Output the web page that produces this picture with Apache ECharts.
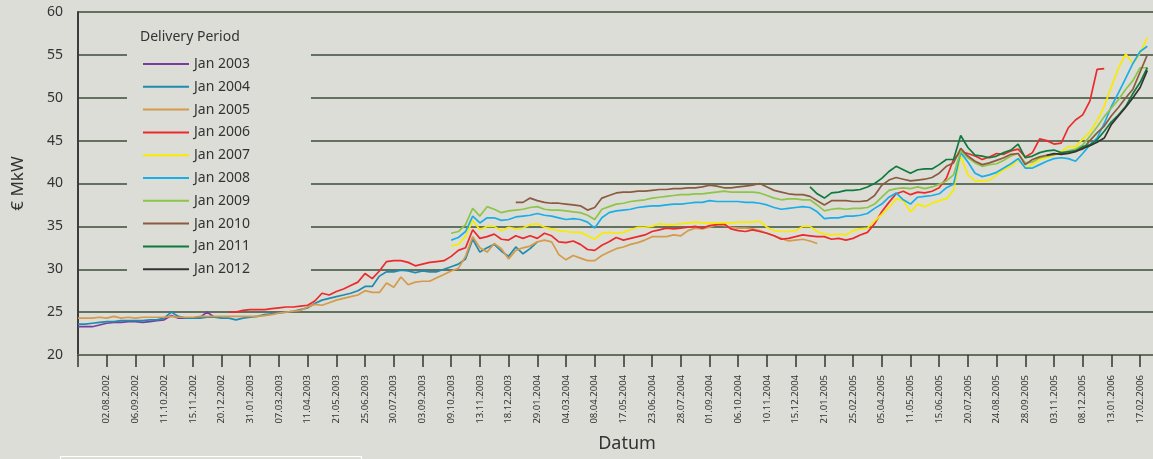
<!DOCTYPE html>
<html>
<head>
<meta charset="utf-8">
<script src="https://cdn.jsdelivr.net/npm/echarts@6/dist/echarts.min.js"></script>
<style>
html,body{margin:0;padding:0;background:#dcddd7;}
#chart{width:1153px;height:459px;}
</style>
</head>
<body>
<div id="chart"></div>
<script>
// Tick labels (one every 4 data steps; the first tick has no label)
const tickLabels = ['', '02.08.2002', '06.09.2002', '11.10.2002', '15.11.2002', '20.12.2002',
  '31.01.2003', '07.03.2003', '11.04.2003', '21.05.2003', '25.06.2003', '30.07.2003', '03.09.2003',
  '09.10.2003', '13.11.2003', '18.12.2003', '29.01.2004', '04.03.2004', '08.04.2004', '17.05.2004',
  '23.06.2004', '28.07.2004', '01.09.2004', '06.10.2004', '10.11.2004', '15.12.2004', '21.01.2005',
  '25.02.2005', '05.04.2005', '11.05.2005', '15.06.2005', '20.07.2005', '24.08.2005', '28.09.2005',
  '03.11.2005', '08.12.2005', '13.01.2006', '17.02.2006'];
const stepsPerLabel = 4;

const seriesNames = ['Jan 2003', 'Jan 2004', 'Jan 2005', 'Jan 2006', 'Jan 2007',
  'Jan 2008', 'Jan 2009', 'Jan 2010', 'Jan 2011', 'Jan 2012'];

// First data step of each series
const seriesStart = [0, 0, 0, 21, 52, 52, 52, 61, 102, 135];

const jan2003 = [23.3,23.3,23.3,23.5,23.7,23.8,23.8,23.9,23.9,23.8,23.9,24.0,24.1,24.6,24.3,24.3,24.3,24.4,25.0,24.4,24.4];

const jan2004 = [23.6,23.6,23.7,23.8,23.9,23.9,24.0,24.0,24.0,24.0,
  24.1,24.1,24.3,25.0,24.5,24.3,24.3,24.3,24.4,24.4,
  24.3,24.3,24.1,24.3,24.4,24.5,24.7,24.8,24.9,25.0,
  25.1,25.3,25.5,26.0,26.4,26.6,26.8,27.0,27.2,27.5,
  28.0,28.0,29.2,29.7,29.7,29.9,29.8,29.6,29.8,29.7,
  29.7,30.0,30.3,30.6,31.2,33.5,32.0,32.5,32.9,32.1,
  31.5,32.6,31.8,32.4,33.2];

const jan2005 = [24.3,24.3,24.3,24.4,24.3,24.5,24.3,24.4,24.3,24.4,
  24.4,24.4,24.4,24.5,24.4,24.4,24.4,24.5,24.5,24.5,
  24.5,24.5,24.5,24.5,24.5,24.5,24.6,24.7,24.9,25.0,
  25.1,25.2,25.6,25.9,25.8,26.1,26.4,26.6,26.8,27.0,
  27.5,27.3,27.3,28.4,27.9,29.1,28.2,28.5,28.6,28.6,
  29.0,29.4,29.8,30.1,31.5,33.8,32.5,32.0,33.0,32.4,
  31.2,32.2,32.5,32.7,33.2,33.4,33.2,31.7,31.1,31.6,
  31.3,31.0,31.0,31.6,32.0,32.4,32.6,32.9,33.1,33.4,
  33.8,33.8,33.8,34.0,33.9,34.5,34.8,34.7,34.9,35.2,
  35.1,34.9,34.8,34.8,34.7,34.5,34.2,33.9,33.6,33.3,
  33.4,33.5,33.3,33.0];

const jan2006 = [25.0,25.0,25.2,25.3,25.3,25.3,25.4,25.5,25.6,
  25.6,25.7,25.8,26.3,27.2,27.0,27.4,27.7,28.1,28.5,
  29.5,28.9,29.8,30.9,31.0,31.0,30.8,30.4,30.6,30.8,
  30.9,31.0,31.5,32.2,32.5,34.6,33.6,33.8,34.1,33.5,
  33.4,33.9,33.6,33.9,33.6,34.2,33.9,33.2,33.1,33.3,
  32.9,32.3,32.2,32.8,33.2,33.7,33.4,33.6,33.8,34.0,
  34.4,34.6,34.8,34.7,34.8,34.9,35.0,34.8,35.1,35.2,
  35.3,34.7,34.5,34.4,34.6,34.4,34.2,33.9,33.5,33.6,
  33.8,34.0,33.9,33.8,33.8,33.5,33.6,33.4,33.6,34.0,
  34.3,35.3,36.7,37.8,38.8,39.1,38.7,39.0,38.9,39.1,
  39.5,40.6,42.8,43.7,43.5,43.2,42.8,43.1,43.5,43.4,
  43.8,44.0,43.1,43.6,45.2,45.0,44.6,44.7,46.5,47.4,
  48.0,49.6,53.3,53.4];

const jan2007 = [32.7,32.9,33.8,35.7,34.6,35.0,35.0,34.5,
  34.9,34.7,34.8,35.2,35.3,34.9,34.7,34.5,34.4,34.3,
  34.3,33.9,33.5,34.2,34.3,34.2,34.3,34.6,34.9,34.9,
  35.0,35.3,35.2,35.2,35.3,35.4,35.5,35.4,35.4,35.4,
  35.4,35.4,35.5,35.5,35.5,35.6,34.9,34.5,34.4,34.4,
  34.5,35.0,35.0,34.4,34.1,34.0,34.1,34.0,34.5,34.7,
  34.8,35.6,36.4,37.2,38.2,38.0,36.7,37.6,37.3,37.7,
  38.0,38.2,39.2,43.2,41.0,40.3,40.3,40.4,41.0,41.6,
  42.0,42.8,41.8,42.2,42.8,43.0,43.3,43.7,44.3,44.3,
  45.2,46.0,47.3,49.0,51.3,53.5,55.1,54.0,55.2,57.0];

const jan2008 = [33.4,33.7,34.4,36.2,35.4,36.0,36.0,35.7,
  35.8,36.1,36.2,36.3,36.5,36.3,36.2,36.0,35.8,35.9,
  35.8,35.5,34.8,36.0,36.6,36.8,36.9,37.0,37.2,37.3,
  37.4,37.4,37.5,37.6,37.6,37.7,37.8,37.8,38.0,37.9,
  37.9,37.9,37.9,37.8,37.8,37.7,37.5,37.2,37.0,37.1,
  37.2,37.3,37.2,36.7,35.9,36.0,36.0,36.2,36.2,36.3,
  36.5,37.1,37.6,38.4,38.9,38.1,37.6,38.4,38.5,38.6,
  38.8,39.5,39.9,43.6,42.5,41.2,40.8,41.0,41.3,41.8,
  42.3,42.9,41.8,41.8,42.2,42.6,42.9,43.0,42.9,42.6,
  43.5,44.5,45.3,47.0,49.0,50.6,52.3,54.0,55.4,56.0];

const jan2009 = [34.2,34.4,35.2,37.1,36.2,37.3,37.0,36.6,
  36.8,36.9,37.0,37.2,37.3,37.0,36.9,36.9,36.8,36.7,
  36.6,36.3,35.8,37.0,37.3,37.6,37.7,37.9,38.0,38.1,
  38.3,38.4,38.5,38.6,38.7,38.7,38.8,38.8,38.9,39.0,
  39.1,39.0,39.0,39.0,39.0,38.9,38.6,38.3,38.1,38.2,
  38.2,38.1,38.1,37.5,36.8,37.0,37.1,37.0,37.1,37.1,
  37.2,37.6,38.4,39.2,39.4,39.5,39.4,39.6,39.4,39.6,
  39.9,40.3,41.0,43.8,43.0,42.4,42.0,42.2,42.3,42.7,
  43.2,43.5,42.4,42.5,43.0,43.2,43.4,43.5,43.8,44.0,
  44.5,45.5,46.6,47.8,48.8,49.8,51.0,52.0,53.5,53.5];

const jan2010 = [37.8,37.8,38.3,38.0,37.8,37.7,37.7,37.6,37.5,
  37.4,36.9,37.2,38.3,38.6,38.9,39.0,39.0,39.1,39.1,
  39.2,39.3,39.3,39.4,39.4,39.5,39.5,39.6,39.8,39.7,
  39.5,39.5,39.6,39.7,39.8,40.0,39.6,39.2,39.0,38.8,
  38.7,38.7,38.5,38.0,37.5,38.0,38.0,38.0,37.9,37.9,
  38.0,38.6,39.8,40.4,40.7,40.5,40.3,40.4,40.5,40.7,
  41.2,42.0,42.4,44.1,43.2,42.6,42.2,42.4,42.7,43.0,
  43.4,43.5,42.2,42.8,43.1,43.3,43.4,43.5,43.6,43.8,
  44.0,45.0,45.9,46.7,47.9,48.9,50.0,51.0,53.0,55.0];

const jan2011 = [39.6,38.8,38.3,38.9,39.0,39.2,39.2,39.3,
  39.6,40.0,40.6,41.4,42.0,41.6,41.2,41.6,41.7,41.7,
  42.2,42.8,42.8,45.6,44.2,43.3,43.2,43.0,43.2,43.6,
  43.9,44.6,43.0,43.2,43.6,43.8,43.9,43.6,43.7,43.8,
  44.3,44.5,45.1,46.1,47.2,48.0,49.0,50.5,51.8,53.5];

const jan2012 = [43.3,43.5,43.4,43.5,43.7,44.1,44.4,44.8,45.3,46.9,47.9,48.9,50.0,51.2,53.2];

const seriesValues = [jan2003, jan2004, jan2005, jan2006, jan2007, jan2008, jan2009, jan2010, jan2011, jan2012];
const seriesColors = ['#7a3b9e', '#1f8bb0', '#d59a4c', '#ec2a2c', '#f8ea00',
  '#1aaee8', '#8dc449', '#8b5b3f', '#0f7a3d', '#333333'];

const BG = '#dcddd7';
const GRID = '#627160';

const chart = echarts.init(document.getElementById('chart'), null, {renderer: 'canvas'});

const series = seriesNames.map((name, s) => ({
  name: name,
  type: 'line',
  symbol: 'none',
  smooth: false,
  z: 2 + s * 0.01,
  lineStyle: {color: seriesColors[s], width: 1.7},
  itemStyle: {color: seriesColors[s]},
  data: seriesValues[s].map((v, j) => [seriesStart[s] + j, v])
}));

chart.setOption({
  backgroundColor: BG,
  animation: false,
  textStyle: {fontFamily: 'Noto Sans'},
  grid: {left: 78, width: 1098, top: 12, height: 343, containLabel: false, outerBoundsMode: 'none'},
  xAxis: {
    type: 'value',
    min: 0,
    max: 153,
    interval: stepsPerLabel,
    name: 'Datum',
    nameLocation: 'middle',
    nameGap: 80,
    nameTextStyle: {fontSize: 18, color: '#333', fontFamily: 'Noto Sans'},
    axisLine: {show: true, lineStyle: {color: GRID, width: 2}},
    axisTick: {show: true, length: 12, lineStyle: {color: '#333', width: 1.5}},
    splitLine: {show: false},
    axisLabel: {
      rotate: 90,
      margin: 20,
      fontSize: 9.5,
      color: '#333',
      fontFamily: 'Noto Sans',
      formatter: function (v) {
        if (v % stepsPerLabel !== 0) return '';
        const k = v / stepsPerLabel;
        return tickLabels[k] || '';
      }
    }
  },
  yAxis: {
    type: 'value',
    min: 20,
    max: 60,
    interval: 5,
    name: '€ MkW',
    nameLocation: 'middle',
    nameGap: 51,
    nameTextStyle: {fontSize: 17, color: '#333', fontFamily: 'Noto Sans'},
    axisLine: {show: true, lineStyle: {color: '#3c3c3c', width: 2}},
    axisTick: {show: false},
    axisLabel: {fontSize: 14, color: '#333', margin: 15, fontFamily: 'Noto Sans'},
    splitLine: {show: true, lineStyle: {color: GRID, width: 2}}
  },
  legend: {
    orient: 'vertical',
    left: 142,
    top: 57,
    padding: 0,
    itemWidth: 46,
    itemHeight: 14,
    itemGap: 8.8,
    itemStyle: {opacity: 0},
    textStyle: {fontSize: 14, color: '#333', fontFamily: 'Noto Sans'},
    data: seriesNames
  },
  graphic: [
    {type: 'rect', z: 3, shape: {x: 127, y: 22, width: 184, height: 268}, style: {fill: BG}},
    {type: 'text', z: 6, x: 140, y: 37, style: {text: 'Delivery Period', fontSize: 14, fill: '#333', fontFamily: 'Noto Sans', verticalAlign: 'middle'}},
    {type: 'rect', z: 6, shape: {x: 60.5, y: 456.5, width: 301, height: 30}, style: {fill: 'none', stroke: '#ffffff', lineWidth: 1.2}}
  ],
  series: series
});
</script>
</body>
</html>
